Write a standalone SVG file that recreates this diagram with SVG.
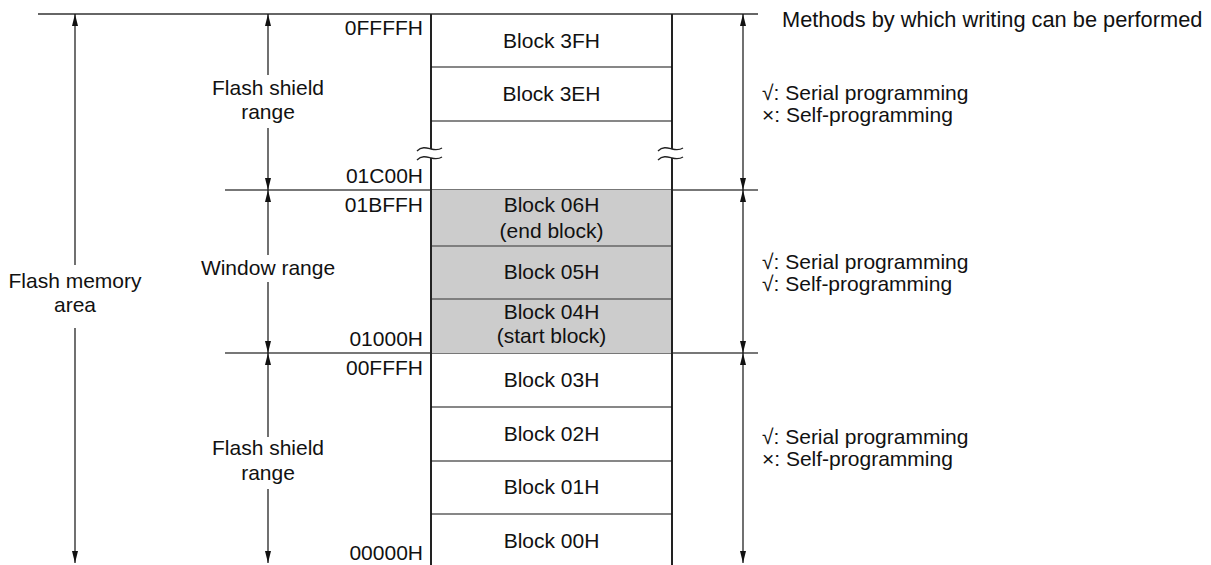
<svg xmlns="http://www.w3.org/2000/svg" width="1211" height="565" viewBox="0 0 1211 565">
<style>
text{font-family:"Liberation Sans",Arial,sans-serif;font-size:21px;fill:#111}
.c{text-anchor:middle}
.r{text-anchor:end}
.dim{stroke:#111;stroke-width:1.2;fill:none}
.bnd{stroke:#333;stroke-width:1.4;fill:none}
.bndg{stroke:#777;stroke-width:2;fill:none}
.col{stroke:#222;stroke-width:2;fill:none}
.div{stroke:#111;stroke-width:1.2;fill:none}
.divg{stroke:#666;stroke-width:1.6;fill:none}
.wave{stroke:#222;stroke-width:1.3;fill:none}
</style>
<defs>
<marker id="ah" viewBox="0 0 12 6" refX="12" refY="3" markerWidth="12" markerHeight="6" markerUnits="userSpaceOnUse" orient="auto-start-reverse">
<path d="M0,0 L12,3 L0,6 Z" fill="#111"/>
</marker>
</defs>
<rect width="1211" height="565" fill="#fff"/>

<g id="boundaries">
<line class="bnd" x1="38" y1="14" x2="758" y2="14"/>
<line class="bndg" x1="225" y1="190" x2="758" y2="190"/>
<line class="bndg" x1="225" y1="353" x2="758" y2="353"/>
</g>

<g id="window-blocks">
<rect x="431" y="190" width="241" height="163" fill="#cccccc"/>
<line class="divg" x1="431" y1="246" x2="672" y2="246"/>
<line class="divg" x1="431" y1="299" x2="672" y2="299"/>
</g>

<g id="memory-column">
<line class="col" x1="431" y1="14" x2="431" y2="149"/>
<line class="col" x1="431" y1="158" x2="431" y2="565"/>
<line class="col" x1="672" y1="14" x2="672" y2="149"/>
<line class="col" x1="672" y1="158" x2="672" y2="565"/>
<line class="div" x1="431" y1="67" x2="672" y2="67"/>
<line class="div" x1="431" y1="121" x2="672" y2="121"/>
<line class="div" x1="431" y1="407" x2="672" y2="407"/>
<line class="div" x1="431" y1="461" x2="672" y2="461"/>
<line class="div" x1="431" y1="514" x2="672" y2="514"/>
<path class="wave" d="M417,151 C422,146 427,148 431,149 C435,150 439,150 442,148"/>
<path class="wave" d="M417,160 C422,155 427,157 431,158 C435,159 439,159 442,157"/>
<path class="wave" d="M658,151 C663,146 668,148 672,149 C676,150 680,150 683,148"/>
<path class="wave" d="M658,160 C663,155 668,157 672,158 C676,159 680,159 683,157"/>
</g>

<g id="block-3FH"><text class="c" x="551.5" y="48">Block 3FH</text></g>
<g id="block-3EH"><text class="c" x="551.5" y="101">Block 3EH</text></g>
<g id="block-06H"><text class="c" x="551.5" y="212">Block 06H</text><text class="c" x="551.5" y="238">(end block)</text></g>
<g id="block-05H"><text class="c" x="551.5" y="279">Block 05H</text></g>
<g id="block-04H"><text class="c" x="551.5" y="319">Block 04H</text><text class="c" x="551.5" y="343">(start block)</text></g>
<g id="block-03H"><text class="c" x="551.5" y="387">Block 03H</text></g>
<g id="block-02H"><text class="c" x="551.5" y="441">Block 02H</text></g>
<g id="block-01H"><text class="c" x="551.5" y="494">Block 01H</text></g>
<g id="block-00H"><text class="c" x="551.5" y="548">Block 00H</text></g>

<g id="addresses">
<text class="r" x="423" y="35">0FFFFH</text>
<text class="r" x="423" y="183">01C00H</text>
<text class="r" x="423" y="212">01BFFH</text>
<text class="r" x="423" y="346">01000H</text>
<text class="r" x="423" y="375">00FFFH</text>
<text class="r" x="423" y="560">00000H</text>
</g>

<g id="connectors">
<line class="dim" x1="75" y1="265" x2="75" y2="14" marker-end="url(#ah)"/>
<line class="dim" x1="75" y1="328" x2="75" y2="563" marker-end="url(#ah)"/>
<line class="dim" x1="268" y1="75" x2="268" y2="14" marker-end="url(#ah)"/>
<line class="dim" x1="268" y1="128" x2="268" y2="190" marker-end="url(#ah)"/>
<line class="dim" x1="268" y1="255" x2="268" y2="190" marker-end="url(#ah)"/>
<line class="dim" x1="268" y1="282" x2="268" y2="353" marker-end="url(#ah)"/>
<line class="dim" x1="268" y1="437" x2="268" y2="353" marker-end="url(#ah)"/>
<line class="dim" x1="268" y1="489" x2="268" y2="563" marker-end="url(#ah)"/>
<line class="dim" x1="743" y1="14" x2="743" y2="190" marker-start="url(#ah)" marker-end="url(#ah)"/>
<line class="dim" x1="743" y1="190" x2="743" y2="353" marker-start="url(#ah)" marker-end="url(#ah)"/>
<line class="dim" x1="743" y1="353" x2="743" y2="563" marker-start="url(#ah)" marker-end="url(#ah)"/>
</g>

<g id="label-flash-memory-area"><text class="c" x="75" y="288">Flash memory</text><text class="c" x="75" y="312">area</text></g>
<g id="label-flash-shield-upper"><text class="c" x="268" y="95">Flash shield</text><text class="c" x="268" y="119">range</text></g>
<g id="label-window-range"><text class="c" x="268" y="275">Window range</text></g>
<g id="label-flash-shield-lower"><text class="c" x="268" y="455">Flash shield</text><text class="c" x="268" y="480">range</text></g>

<g id="methods-header"><text x="782" y="27" style="font-size:21.8px">Methods by which writing can be performed</text></g>
<g id="methods-upper"><text x="762" y="100">√: Serial programming</text><text x="762" y="122">×: Self-programming</text></g>
<g id="methods-window"><text x="762" y="269">√: Serial programming</text><text x="762" y="291">√: Self-programming</text></g>
<g id="methods-lower"><text x="762" y="444">√: Serial programming</text><text x="762" y="466">×: Self-programming</text></g>
</svg>
